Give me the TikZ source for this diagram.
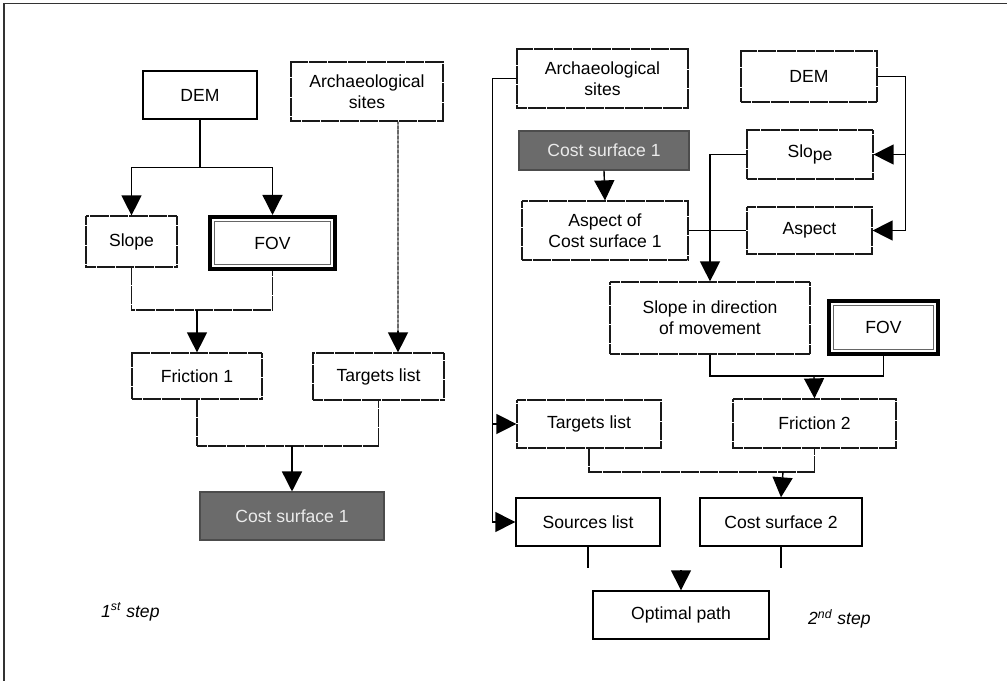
\documentclass[tikz,border=0pt]{standalone}
\usepackage{fontspec}
\setmainfont{Liberation Sans}
\usetikzlibrary{positioning,arrows.meta}

\begin{document}
\begin{tikzpicture}[font=\fontsize{10}{12}\selectfont,
    box/.style={draw, rectangle, align=center, inner sep=0pt, line width=0.8pt},
    dotbox/.style={draw=black!90, dash pattern=on 0.4pt off 0.2pt, rectangle, align=center, inner sep=0pt, line width=0.7pt},
    costbox/.style={draw=black!70, fill=black!58, text=white!92!black, rectangle, align=center, inner sep=0pt, line width=0.6pt},
    fovbox/.style={draw, rectangle, align=center, inner sep=0pt, line width=2.3pt, path picture={\draw[black!60, line width=0.5pt] ([shift={(2.6pt,-2.6pt)}]path picture bounding box.north west) rectangle ([shift={(-2.6pt,2.6pt)}]path picture bounding box.south east);}},
    msg/.style={-{Triangle[length=0.4cm,width=0.4cm]}, line width=0.8pt},
    link/.style={line width=0.7pt, draw=black!90, dash pattern=on 0.4pt off 0.2pt},
    plain/.style={line width=0.8pt}]
    \useasboundingbox (0,0) rectangle (20.14,-13.62);
    \draw[line width=0.8pt, black!80] (0.08,-13.62) -- (0.08,-0.07) -- (20.14,-0.07);

    % 1st step
    \node[box, minimum width=2.28cm, minimum height=0.96cm] (demA) at (4.0,-1.9) {DEM};
    \node[dotbox, minimum width=3.04cm, minimum height=1.18cm] (sitesA) at (7.34,-1.83) {Archaeological\\sites};
    \node[dotbox, minimum width=1.82cm, minimum height=1.02cm] (slopeA) at (2.63,-4.83) {Slope};
    \node[fovbox, minimum width=2.5cm, minimum height=1.04cm] (fovA) at (5.45,-4.86) {FOV};
    \node[dotbox, minimum width=2.6cm, minimum height=0.92cm] (fricA) at (3.94,-7.52) {Friction 1};
    \node[dotbox, minimum width=2.62cm, minimum height=0.94cm] (targA) at (7.57,-7.53) {Targets list};
    \node[costbox, minimum width=3.68cm, minimum height=0.96cm] (costA) at (5.84,-10.32) {Cost surface 1};
    \node[anchor=west, font=\fontsize{10}{12}\selectfont\itshape] (stepA) at (1.9,-12.24) {1\textsuperscript{st} step};

    \coordinate (jA) at (3.94,-6.2);
    \coordinate (jB) at (5.84,-8.92);

    \draw[msg] (demA.south) -- ++(0,-0.96) -| (slopeA.north);
    \draw[msg] (demA.south) -- ++(0,-0.96) -| (fovA.north);
    \draw[link] (slopeA.south) |- (jA) -| (fovA.south);
    \draw[msg] (jA) -- (fricA.north);
    \draw[link] ([xshift=0.62cm]sitesA.south) -- ([xshift=0.39cm,yshift=0.4cm]targA.north);
    \draw[msg] ([xshift=0.39cm,yshift=0.42cm]targA.north) -- ([xshift=0.39cm]targA.north);
    \draw[link] (fricA.south) |- (jB) -| (targA.south);
    \draw[msg] (jB) -- (costA.north);

    % 2nd step
    \node[dotbox, minimum width=3.42cm, minimum height=1.18cm] (sitesB) at (12.05,-1.57) {Archaeological\\sites};
    \node[dotbox, minimum width=2.72cm, minimum height=1.02cm] (demB) at (16.18,-1.53) {DEM};
    \node[costbox, minimum width=3.4cm, minimum height=0.78cm] (costB) at (12.08,-3.01) {Cost surface 1};
    \node[dotbox, minimum width=3.32cm, minimum height=1.18cm] (aspCost) at (12.1,-4.61) {Aspect of\\Cost surface 1};
    \node[dotbox, minimum width=2.52cm, minimum height=0.98cm] (slopeB) at (16.2,-3.09) {Slo\raisebox{-0.3ex}{pe}};
    \node[dotbox, minimum width=2.5cm, minimum height=0.94cm] (aspB) at (16.19,-4.61) {Aspect};
    \node[dotbox, minimum width=4.0cm, minimum height=1.44cm] (sdir) at (14.2,-6.36) {Slope in direction\\of movement};
    \node[fovbox, minimum width=2.18cm, minimum height=1.06cm] (fovB) at (17.67,-6.55) {FOV};
    \node[dotbox, minimum width=3.26cm, minimum height=0.98cm] (fricB) at (16.29,-8.47) {Friction 2};
    \node[dotbox, minimum width=2.88cm, minimum height=0.96cm] (targB) at (11.78,-8.48) {Targets list};
    \node[box, minimum width=2.88cm, minimum height=0.96cm] (srcB) at (11.76,-10.44) {Sources list};
    \node[box, minimum width=3.24cm, minimum height=0.96cm] (costC) at (15.62,-10.44) {Cost surface 2};
    \node[box, minimum width=3.52cm, minimum height=0.96cm] (optB) at (13.62,-12.3) {Optimal path};
    \node[anchor=west, font=\fontsize{10}{12}\selectfont\itshape] (stepB) at (16.04,-12.38) {2\textsuperscript{nd} step};

    \coordinate (jC) at (16.28,-7.52);
    \coordinate (jD) at (15.66,-9.44);
    \coordinate (jE) at (13.62,-11.4);

    \draw[msg] (sitesB.west) -- ++(-0.48,0) |- (targB.west);
    \draw[msg] (sitesB.west) -- ++(-0.48,0) |- (srcB.west);
    \draw[msg] (demB.east) -- ++(0.56,0) |- (slopeB.east);
    \draw[msg] (demB.east) -- ++(0.56,0) |- (aspB.east);
    \draw[msg] (costB.south) -- (aspCost.north);
    \draw[msg] (slopeB.west) -| (sdir.north);
    \draw[plain] (aspCost.east) -- (aspB.west);
    \draw[line width=0.6pt] (sdir.south) |- (jC) -| (fovB.south);
    \draw[msg] (jC) -- (fricB.north);
    \draw[link] (targB.south) |- (jD) -| (fricB.south);
    \draw[msg] (jD) -- (costC.north);
    \draw[plain] (srcB.south) -- ++(0,-0.42);
    \draw[plain] (costC.south) -- ++(0,-0.42);
    \draw[msg] (jE) -- (optB.north);
\end{tikzpicture}
\end{document}
